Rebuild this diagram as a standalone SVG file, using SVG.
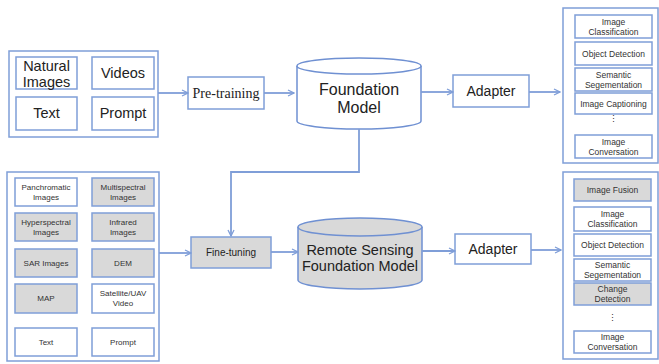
<svg xmlns="http://www.w3.org/2000/svg" width="659" height="364" viewBox="0 0 659 364">
  <style>
    .frame { fill: #ffffff; stroke: #7f9ed8; stroke-width: 1.5; }
    .box { fill: #ffffff; stroke: #7f9ed8; stroke-width: 1.5; }
    .grey { fill: #d9d9d9; stroke: #7f9ed8; stroke-width: 1.5; }
    .cyl { fill: #ffffff; stroke: #6f90d2; stroke-width: 1.5; }
    .cylg { fill: #d9d9d9; stroke: #6f90d2; stroke-width: 1.5; }
    .link { fill: none; stroke: #7f9ed8; stroke-width: 1.8; }
    text { font-family: "Liberation Sans", Arial, sans-serif; fill: #222222; text-anchor: middle; }
    .big { font-size: 14.5px; }
    .mid { font-size: 14px; }
    .sm { font-size: 8.5px; fill: #333333; }
    .xs { font-size: 8px; fill: #333333; }
    .serif { font-family: "Liberation Serif", "Times New Roman", serif; font-size: 14px; }
  </style>
  <defs>
    <marker id="arrow" viewBox="0 0 8 8" refX="7" refY="4" markerWidth="8" markerHeight="8" markerUnits="userSpaceOnUse" orient="auto">
      <path d="M1,1 L7,4 L1,7" fill="none" stroke="#7f9ed8" stroke-width="1.3"/>
    </marker>
  </defs>

  <rect width="659" height="364" fill="#ffffff"/>

  <!-- pre-training data sources -->
  <g id="general-data">
    <rect class="frame" x="9" y="51" width="149" height="86"/>
    <rect class="box" x="16" y="57" width="61" height="32"/>
    <text class="big" x="46.5" y="71">Natural</text>
    <text class="big" x="46.5" y="86.5">Images</text>
    <rect class="box" x="92" y="57" width="62" height="32"/>
    <text class="big" x="123" y="78">Videos</text>
    <rect class="box" x="16" y="97" width="61" height="33"/>
    <text class="big" x="46.5" y="118">Text</text>
    <rect class="box" x="92" y="97" width="62" height="33"/>
    <text class="big" x="123" y="118">Prompt</text>
  </g>

  <g id="pretraining">
    <rect class="box" x="188" y="77" width="76" height="32"/>
    <text class="serif" x="226" y="98">Pre-training</text>
  </g>

  <g id="foundation-model">
    <path class="cyl" d="M297,66 L297,121 A62,8 0 0 0 421,121 L421,66"/>
    <ellipse class="cyl" cx="359" cy="66" rx="62" ry="8"/>
    <text class="big" x="359" y="95" style="font-size:16px">Foundation</text>
    <text class="big" x="359" y="113" style="font-size:16px">Model</text>
  </g>

  <g id="adapter-top">
    <rect class="box" x="453" y="75" width="76" height="32"/>
    <text class="mid" x="491" y="96">Adapter</text>
  </g>

  <g id="general-tasks">
    <rect class="frame" x="563" y="8" width="95" height="155"/>
    <rect class="box" x="575" y="15" width="77" height="23"/>
    <text class="sm" x="613.5" y="25">Image</text>
    <text class="sm" x="613.5" y="35">Classification</text>
    <rect class="box" x="575" y="42" width="77" height="23"/>
    <text class="sm" x="613.5" y="56.5">Object Detection</text>
    <rect class="box" x="575" y="68" width="77" height="23"/>
    <text class="sm" x="613.5" y="78">Semantic</text>
    <text class="sm" x="613.5" y="88">Segementation</text>
    <rect class="box" x="575" y="93" width="77" height="21"/>
    <text class="sm" x="613.5" y="106.5">Image Captioning</text>
    <text class="sm" x="613.5" y="122">⋮</text>
    <rect class="box" x="575" y="135" width="77" height="23"/>
    <text class="sm" x="613.5" y="145">Image</text>
    <text class="sm" x="613.5" y="155">Conversation</text>
  </g>

  <!-- remote sensing data sources -->
  <g id="rs-data">
    <rect class="frame" x="7" y="172" width="152" height="189"/>
    <rect class="box" x="15" y="178" width="62" height="28"/>
    <text class="xs" x="46" y="190">Panchromatic</text>
    <text class="xs" x="46" y="200">Images</text>
    <rect class="grey" x="92" y="178" width="62" height="28"/>
    <text class="xs" x="123" y="190">Multispectral</text>
    <text class="xs" x="123" y="200">Images</text>
    <rect class="grey" x="15" y="213" width="62" height="28"/>
    <text class="xs" x="46" y="225">Hyperspectral</text>
    <text class="xs" x="46" y="235">Images</text>
    <rect class="grey" x="92" y="213" width="62" height="28"/>
    <text class="xs" x="123" y="225">Infrared</text>
    <text class="xs" x="123" y="235">Images</text>
    <rect class="grey" x="15" y="249" width="62" height="28"/>
    <text class="xs" x="46" y="266">SAR Images</text>
    <rect class="grey" x="92" y="249" width="62" height="28"/>
    <text class="xs" x="123" y="266">DEM</text>
    <rect class="grey" x="15" y="284" width="62" height="29"/>
    <text class="xs" x="46" y="301">MAP</text>
    <rect class="box" x="92" y="284" width="62" height="29"/>
    <text class="xs" x="123" y="296">Satellite/UAV</text>
    <text class="xs" x="123" y="306">Video</text>
    <rect class="box" x="15" y="328" width="62" height="28"/>
    <text class="xs" x="46" y="345">Text</text>
    <rect class="box" x="92" y="328" width="62" height="28"/>
    <text class="xs" x="123" y="345">Prompt</text>
  </g>

  <g id="finetuning">
    <rect class="grey" x="191" y="237" width="80" height="31"/>
    <text x="231" y="256" style="font-size:10px">Fine-tuning</text>
  </g>

  <g id="rs-foundation-model">
    <path class="cylg" d="M298,227 L298,280 A62,9 0 0 0 422,280 L422,227"/>
    <ellipse class="cylg" cx="360" cy="227" rx="62" ry="9"/>
    <text class="big" x="360" y="254.5">Remote Sensing</text>
    <text class="big" x="360" y="271">Foundation Model</text>
  </g>

  <g id="adapter-bottom">
    <rect class="box" x="455" y="234" width="76" height="30"/>
    <text class="mid" x="493" y="254">Adapter</text>
  </g>

  <g id="rs-tasks">
    <rect class="frame" x="563" y="172" width="95" height="187"/>
    <rect class="grey" x="574" y="179" width="77" height="22"/>
    <text class="sm" x="612.5" y="193">Image Fusion</text>
    <rect class="box" x="574" y="207" width="77" height="24"/>
    <text class="sm" x="612.5" y="217">Image</text>
    <text class="sm" x="612.5" y="227">Classification</text>
    <rect class="box" x="574" y="234" width="77" height="22"/>
    <text class="sm" x="612.5" y="248">Object Detection</text>
    <rect class="box" x="574" y="259" width="77" height="22"/>
    <text class="sm" x="612.5" y="268">Semantic</text>
    <text class="sm" x="612.5" y="278">Segementation</text>
    <rect class="grey" x="574" y="283" width="77" height="22"/>
    <text class="sm" x="612.5" y="292">Change</text>
    <text class="sm" x="612.5" y="302">Detection</text>
    <text class="sm" x="612.5" y="321">⋮</text>
    <rect class="box" x="574" y="331" width="77" height="22"/>
    <text class="sm" x="612.5" y="340">Image</text>
    <text class="sm" x="612.5" y="350">Conversation</text>
  </g>

  <g id="connectors">
    <line class="link" x1="158" y1="93" x2="188" y2="93" marker-end="url(#arrow)"/>
    <line class="link" x1="264" y1="93" x2="294" y2="93" marker-end="url(#arrow)"/>
    <line class="link" x1="421" y1="92" x2="453" y2="92" marker-end="url(#arrow)"/>
    <line class="link" x1="529" y1="92" x2="560" y2="92" marker-end="url(#arrow)"/>
    <polyline class="link" points="359,129 359,172 231,172 231,236" marker-end="url(#arrow)"/>
    <line class="link" x1="159" y1="253" x2="191" y2="253" marker-end="url(#arrow)"/>
    <line class="link" x1="271" y1="252" x2="298" y2="252" marker-end="url(#arrow)"/>
    <line class="link" x1="422" y1="251" x2="455" y2="251" marker-end="url(#arrow)"/>
    <line class="link" x1="531" y1="250" x2="561" y2="250" marker-end="url(#arrow)"/>
  </g>
</svg>
